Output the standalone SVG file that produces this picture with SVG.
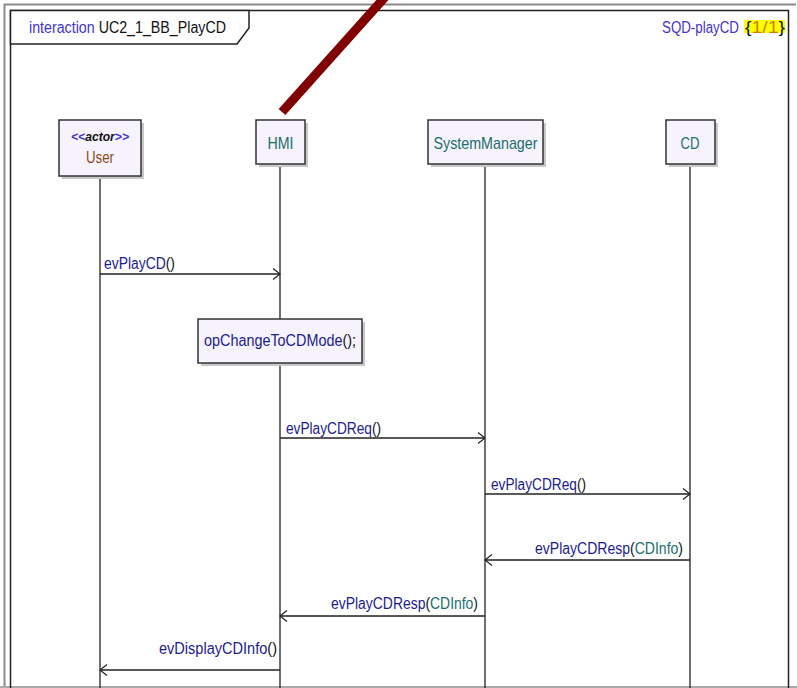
<svg xmlns="http://www.w3.org/2000/svg" width="797" height="688" viewBox="0 0 797 688">
<style>
text{font-family:"Liberation Sans",Arial,sans-serif;}
.lbl{font-size:16px;fill:#1c1c8c;}
.blk{fill:#111;}
.teal{fill:#1b6e6b;}
.nodebox{fill:#f6f3fd;stroke:#333;stroke-width:1.5;}
.shadow{fill:#c8c8c8;}
.life{stroke:#222;stroke-width:1.3;fill:none;}
.msg{stroke:#222;stroke-width:1.3;fill:none;}
.head{stroke:#222;stroke-width:1.2;fill:none;}
.nlbl{font-size:17px;fill:#1b6e6b;text-anchor:middle;}
.hdr{font-size:16px;}
</style>
<rect width="797" height="688" fill="#fff"/>
<g id="outer">
<path d="M4.5,688 V4.5 H796" fill="none" stroke="#8a8a8a" stroke-width="2"/>
<line x1="0" y1="687" x2="797" y2="687" stroke="#aaa" stroke-width="2"/>
<path d="M10.5,690 V10.5 H788.5 V690" fill="none" stroke="#222" stroke-width="1.5"/>
<polygon points="10.5,10.5 249,10.5 249,28 237,44 10.5,44" fill="#fff" stroke="#222" stroke-width="1.5"/>
<text class="hdr" x="29" y="33" textLength="197" lengthAdjust="spacingAndGlyphs"><tspan fill="#4433cc">interaction</tspan><tspan fill="#111"> UC2_1_BB_PlayCD</tspan></text>
<rect x="744" y="20" width="41" height="13" fill="#ffff00"/>
<text class="hdr" x="662" y="33" fill="#4433cc" textLength="77" lengthAdjust="spacingAndGlyphs">SQD-playCD</text>
<text class="hdr" x="745" y="33" textLength="40" lengthAdjust="spacingAndGlyphs"><tspan fill="#111">{</tspan><tspan fill="#d08000">1/1</tspan><tspan fill="#111">}</tspan></text>
</g>
<g id="connectors">
<line class="life" x1="100" y1="176" x2="100" y2="688"/>
<line class="life" x1="280" y1="164" x2="280" y2="319"/>
<line class="life" x1="280" y1="363" x2="280" y2="688"/>
<line class="life" x1="485" y1="164" x2="485" y2="688" stroke="#555" stroke-width="1.8"/>
<line class="life" x1="690" y1="164" x2="690" y2="688"/>
<line class="msg" x1="100" y1="274" x2="280" y2="274"/>
<polyline class="head" points="273,268.5 280,274 273,279.5"/>
<line class="msg" x1="280" y1="438" x2="485" y2="438"/>
<polyline class="head" points="478,432.5 485,438 478,443.5"/>
<line class="msg" x1="485" y1="494" x2="690" y2="494"/>
<polyline class="head" points="683,488.5 690,494 683,499.5"/>
<line class="msg" x1="690" y1="560" x2="485" y2="560"/>
<polyline class="head" points="492,554.5 485,560 492,565.5"/>
<line class="msg" x1="485" y1="616" x2="280" y2="616"/>
<polyline class="head" points="287,610.5 280,616 287,621.5"/>
<line class="msg" x1="280" y1="670" x2="100" y2="670"/>
<polyline class="head" points="107,664.5 100,670 107,675.5"/>
<text class="lbl" x="104" y="269" textLength="71" lengthAdjust="spacingAndGlyphs">evPlayCD<tspan class="blk">()</tspan></text>
<text class="lbl" x="286" y="434" textLength="95" lengthAdjust="spacingAndGlyphs">evPlayCDReq<tspan class="blk">()</tspan></text>
<text class="lbl" x="491" y="490" textLength="95" lengthAdjust="spacingAndGlyphs">evPlayCDReq<tspan class="blk">()</tspan></text>
<text class="lbl" x="535" y="554" textLength="148" lengthAdjust="spacingAndGlyphs">evPlayCDResp<tspan class="blk">(</tspan><tspan class="teal">CDInfo</tspan><tspan class="blk">)</tspan></text>
<text class="lbl" x="331" y="609" textLength="147" lengthAdjust="spacingAndGlyphs">evPlayCDResp<tspan class="blk">(</tspan><tspan class="teal">CDInfo</tspan><tspan class="blk">)</tspan></text>
<text class="lbl" x="159" y="654" textLength="118" lengthAdjust="spacingAndGlyphs">evDisplayCDInfo<tspan class="blk">()</tspan></text>
</g>
<g id="action">
<rect class="shadow" x="201" y="322" width="164" height="44"/>
<rect class="nodebox" x="198" y="319" width="164" height="44"/>
<text class="lbl" x="204" y="346" textLength="152" lengthAdjust="spacingAndGlyphs">opChangeToCDMode<tspan class="blk">();</tspan></text>
</g>
<g id="User">
<rect class="shadow" x="62" y="123" width="82" height="56"/>
<rect class="nodebox" x="59" y="120" width="82" height="56"/>
<text x="100" y="141" font-size="12" font-weight="bold" font-style="italic" text-anchor="middle" textLength="58" lengthAdjust="spacingAndGlyphs"><tspan fill="#4433cc">&lt;&lt;</tspan><tspan fill="#111">actor</tspan><tspan fill="#4433cc">&gt;&gt;</tspan></text>
<text x="100" y="163" font-size="17" fill="#8b4a14" text-anchor="middle" textLength="28" lengthAdjust="spacingAndGlyphs">User</text>
</g>
<g id="HMI">
<rect class="shadow" x="259" y="123" width="49" height="44"/>
<rect class="nodebox" x="256" y="120" width="49" height="44"/>
<text class="nlbl" x="280.5" y="149" textLength="26" lengthAdjust="spacingAndGlyphs">HMI</text>
</g>
<g id="SystemManager">
<rect class="shadow" x="431" y="123" width="115" height="44"/>
<rect class="nodebox" x="428" y="120" width="115" height="44"/>
<text class="nlbl" x="485.5" y="149" textLength="104" lengthAdjust="spacingAndGlyphs">SystemManager</text>
</g>
<g id="CD">
<rect class="shadow" x="669" y="123" width="49" height="44"/>
<rect class="nodebox" x="666" y="120" width="49" height="44"/>
<text class="nlbl" x="690" y="149" textLength="19" lengthAdjust="spacingAndGlyphs">CD</text>
</g>
<g id="pointer">
<line x1="282" y1="112" x2="386" y2="-4" stroke="#800000" stroke-width="9"/>
</g>
</svg>
